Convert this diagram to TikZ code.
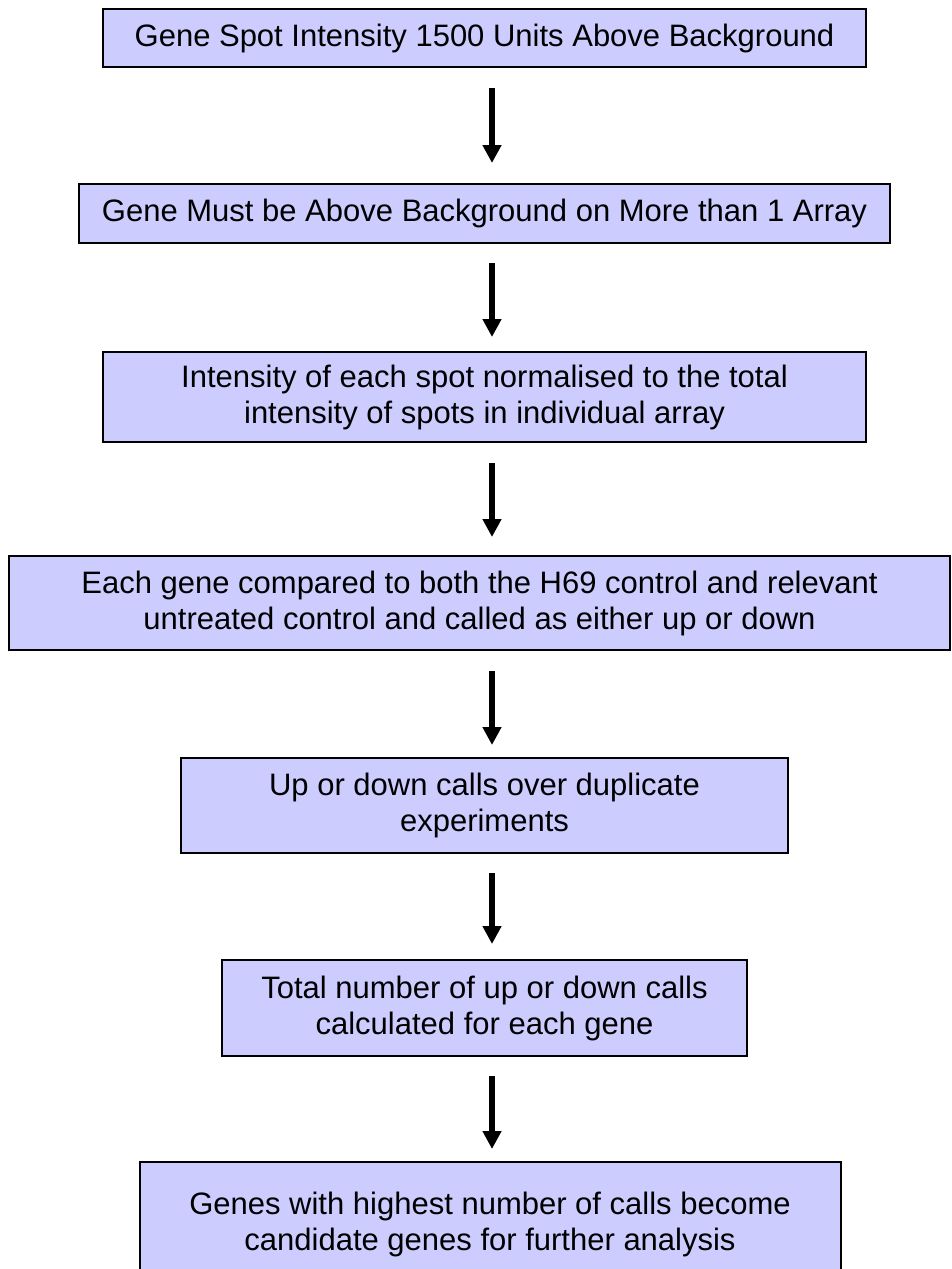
\documentclass[tikz,border=0pt]{standalone}
\usepackage{fontspec}
\setmainfont{Liberation Sans}
\usetikzlibrary{arrows.meta}
\begin{document}
\begin{tikzpicture}[x=1pt,y=1pt,
  stepbox/.style={draw=black, line width=2pt, fill=boxfill, align=center,
    inner sep=0pt, font=\fontsize{31}{36}\selectfont},
  flow/.style={line width=5.5pt, -{Triangle[width=18pt,length=18pt]}}]
\definecolor{boxfill}{RGB}{204,204,255}
\clip (0,0) rectangle (952,-1269);
\useasboundingbox (0,0) rectangle (952,-1269);
\fill[white] (0,0) rectangle (952,-1269);

\node[stepbox, minimum width=763pt, minimum height=58pt] (b1) at (484.5,-38)
  {Gene Spot Intensity 1500 Units Above Background};
\node[stepbox, minimum width=811pt, minimum height=59pt] (b2) at (484.5,-213.5)
  {Gene Must be Above Background on More than 1 Array};
\node[stepbox, minimum width=763pt, minimum height=90pt] (b3) at (484.5,-397)
  {Intensity of each spot normalised to the total\\intensity of spots in individual array};
\node[stepbox, minimum width=941pt, minimum height=94pt] (b4) at (479.5,-603)
  {Each gene compared to both the H69 control and relevant\\untreated control and called as either up or down};
\node[stepbox, minimum width=607pt, minimum height=95pt] (b5) at (484.5,-805.5)
  {Up or down calls over duplicate\\experiments};
\node[stepbox, minimum width=525pt, minimum height=96pt] (b6) at (484.5,-1008)
  {Total number of up or down calls\\calculated for each gene};
\node[stepbox, minimum width=701pt, minimum height=124pt] (b7) at (490,-1224)
  {Genes with highest number of calls become\\candidate genes for further analysis};

\draw[flow] ([xshift=7.5pt,yshift=-20pt]b1.south) -- ([xshift=7.5pt,yshift=20pt]b2.north);
\draw[flow] ([xshift=7.5pt,yshift=-19pt]b2.south) -- ([xshift=7.5pt,yshift=14pt]b3.north);
\draw[flow] ([xshift=7.5pt,yshift=-20pt]b3.south) -- ([xshift=12.5pt,yshift=18pt]b4.north);
\draw[flow] ([xshift=12.5pt,yshift=-20pt]b4.south) -- ([xshift=7.5pt,yshift=12pt]b5.north);
\draw[flow] ([xshift=7.5pt,yshift=-19pt]b5.south) -- ([xshift=7.5pt,yshift=15pt]b6.north);
\draw[flow] ([xshift=7.5pt,yshift=-19pt]b6.south) -- ([xshift=2pt,yshift=12pt]b7.north);
\end{tikzpicture}
\end{document}
